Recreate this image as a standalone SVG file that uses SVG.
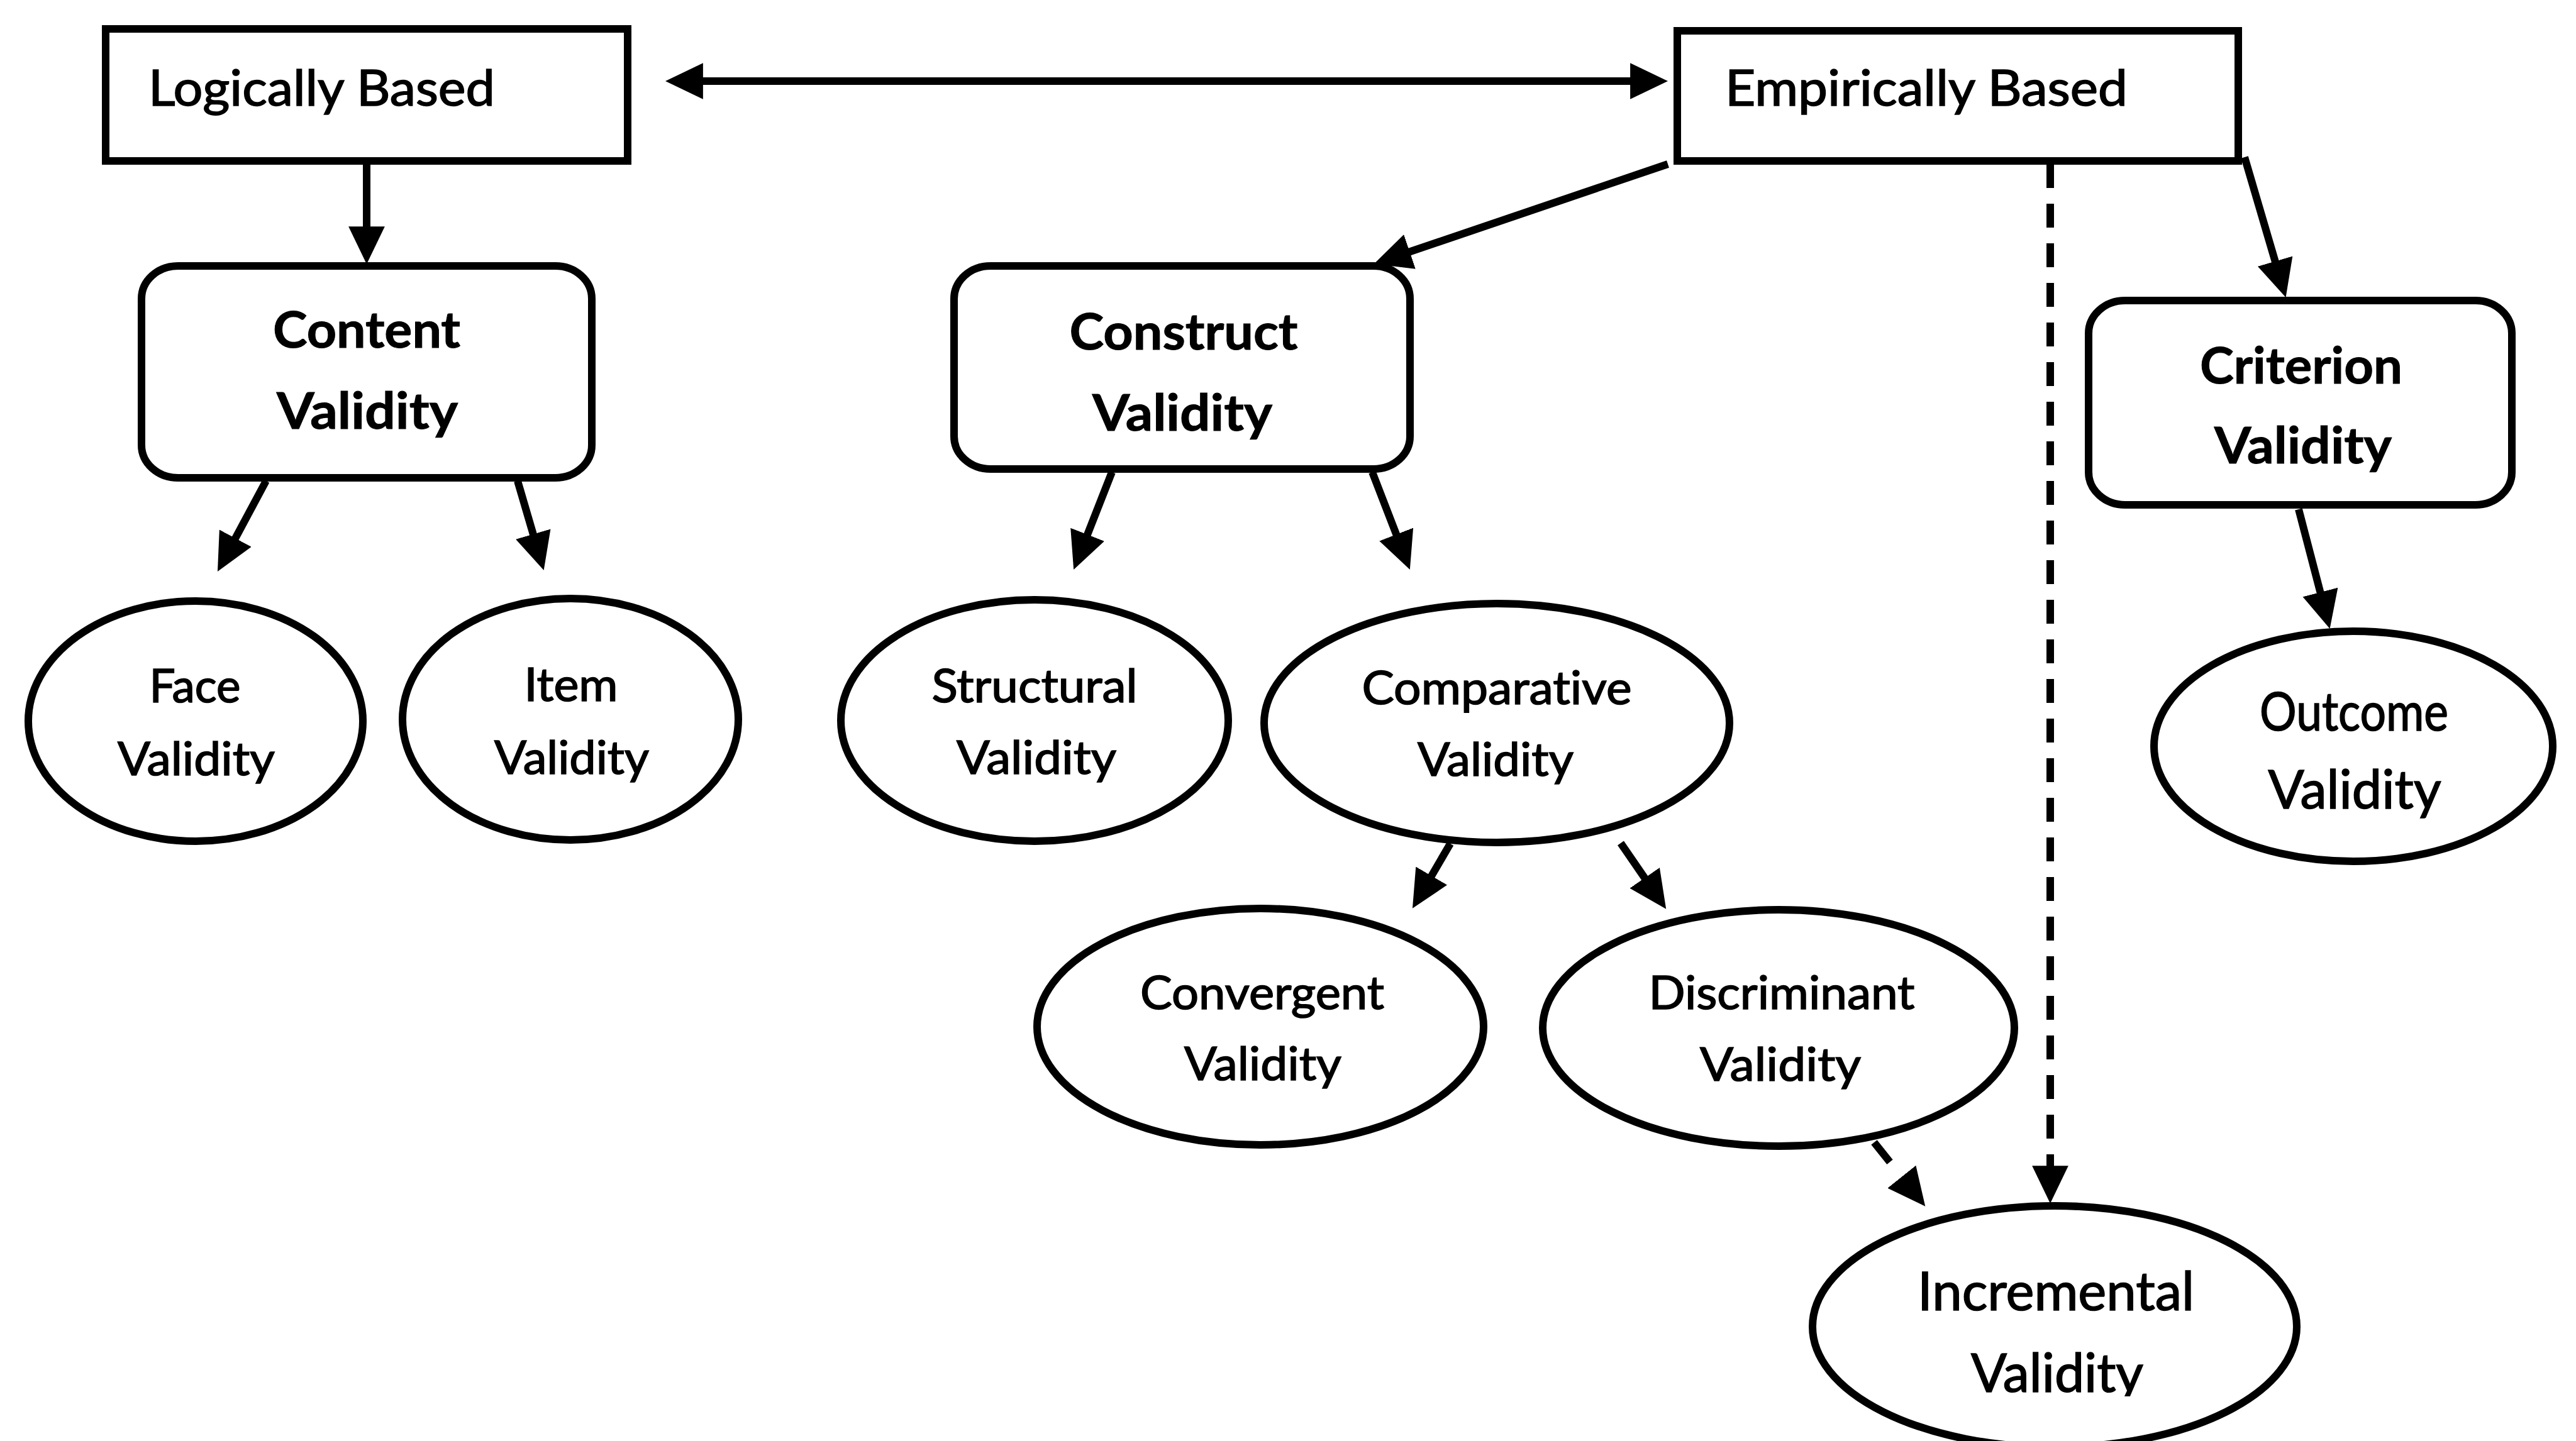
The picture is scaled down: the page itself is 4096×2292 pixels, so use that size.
<svg xmlns="http://www.w3.org/2000/svg" width="4096" height="2292" viewBox="0 0 4096 2292">
  <style>
    .box { fill: #fff; stroke: #000; stroke-width: 12; }
    .oval { fill: #fff; stroke: #000; stroke-width: 12; }
    .edge { fill: none; stroke: #000; stroke-width: 12; }
    .dash { stroke-dasharray: 38 25; }
    .dash1 { stroke-dasharray: 40 300; }
    .t { font-family: Lato, "Open Sans", "Liberation Sans", sans-serif; fill: #000; stroke: #000; stroke-width: 1.6; text-anchor: middle; font-size: 73px; font-variant-ligatures: none; font-feature-settings: "liga" 0, "clig" 0; }
    .tl { text-anchor: start; font-size: 79px; }
    .tb { font-weight: 700; font-size: 80px; stroke-width: 1; }
    .tx { font-size: 85px; }
  </style>
  <defs>
    <marker id="arrow" markerUnits="userSpaceOnUse" markerWidth="60" markerHeight="60" viewBox="0 0 52 50" refX="38" refY="25" orient="auto-start-reverse">
      <path d="M0,0 L52,25 L0,50 z" fill="#000"/>
    </marker>
    <clipPath id="bottomCut">
      <rect x="2800" y="1900" width="900" height="321"/>
    </clipPath>
  </defs>

  <rect width="4096" height="2292" fill="#fff"/>

  <!-- connectors -->
  <g id="connectors">
    <path class="edge" d="M1074,129 L2636,129" marker-start="url(#arrow)" marker-end="url(#arrow)"/>
    <path class="edge" d="M583,261 L583,404" marker-end="url(#arrow)"/>
    <path class="edge" d="M2652,261 L2200,414.5" marker-end="url(#arrow)"/>
    <path class="edge" d="M3569,250 L3630,457.6" marker-end="url(#arrow)"/>
    <path class="edge dash" d="M3260,261 L3260,1898" marker-end="url(#arrow)"/>
    <path class="edge" d="M423,765 L353.6,894.7" marker-end="url(#arrow)"/>
    <path class="edge" d="M823,765 L860.1,891.6" marker-end="url(#arrow)"/>
    <path class="edge" d="M1768,751 L1713.1,891" marker-end="url(#arrow)"/>
    <path class="edge" d="M2182,751 L2236,890.9" marker-end="url(#arrow)"/>
    <path class="edge" d="M3655,810 L3700.5,984.4" marker-end="url(#arrow)"/>
    <path class="edge" d="M2306,1342 L2254.1,1430.9" marker-end="url(#arrow)"/>
    <path class="edge" d="M2577,1341 L2640,1432.5" marker-end="url(#arrow)"/>
    <path class="edge dash1" d="M2980,1817 L3051.2,1906.1" marker-end="url(#arrow)"/>
  </g>

  <!-- top-level categories -->
  <g id="logically-based">
    <rect class="box" x="168" y="46" width="830" height="210"/>
    <text class="t tl" x="236" y="168" textLength="551" lengthAdjust="spacingAndGlyphs">Logically Based</text>
  </g>
  <g id="empirically-based">
    <rect class="box" x="2667" y="49" width="892" height="207"/>
    <text class="t tl" x="2743" y="168" textLength="640" lengthAdjust="spacingAndGlyphs">Empirically Based</text>
  </g>

  <!-- validity types -->
  <g id="content-validity">
    <rect class="box" x="225" y="423" width="716" height="337" rx="58" ry="52"/>
    <text class="t tb" x="583" y="553" textLength="298" lengthAdjust="spacingAndGlyphs">Content</text>
    <text class="t tb" x="584" y="682" textLength="288" lengthAdjust="spacingAndGlyphs">Validity</text>
  </g>
  <g id="construct-validity">
    <rect class="box" x="1517" y="423" width="725" height="323" rx="58" ry="52"/>
    <text class="t tb" x="1882" y="556" textLength="363" lengthAdjust="spacingAndGlyphs">Construct</text>
    <text class="t tb" x="1880" y="685" textLength="286" lengthAdjust="spacingAndGlyphs">Validity</text>
  </g>
  <g id="criterion-validity">
    <rect class="box" x="3321" y="478" width="673" height="325" rx="58" ry="52"/>
    <text class="t tb" x="3659" y="610" textLength="322" lengthAdjust="spacingAndGlyphs">Criterion</text>
    <text class="t tb" x="3662" y="737" textLength="282" lengthAdjust="spacingAndGlyphs">Validity</text>
  </g>

  <!-- subtypes -->
  <g id="face-validity">
    <ellipse class="oval" cx="311" cy="1147" rx="266" ry="191"/>
    <text class="t" x="310" y="1117" textLength="145" lengthAdjust="spacingAndGlyphs">Face</text>
    <text class="t" x="312" y="1233" textLength="250" lengthAdjust="spacingAndGlyphs">Validity</text>
  </g>
  <g id="item-validity">
    <ellipse class="oval" cx="907" cy="1144" rx="267" ry="192"/>
    <text class="t" x="908" y="1115" textLength="149" lengthAdjust="spacingAndGlyphs">Item</text>
    <text class="t" x="909" y="1231" textLength="246" lengthAdjust="spacingAndGlyphs">Validity</text>
  </g>
  <g id="structural-validity">
    <ellipse class="oval" cx="1645" cy="1146" rx="308" ry="192"/>
    <text class="t" x="1645" y="1117" textLength="327" lengthAdjust="spacingAndGlyphs">Structural</text>
    <text class="t" x="1648" y="1231" textLength="254" lengthAdjust="spacingAndGlyphs">Validity</text>
  </g>
  <g id="comparative-validity">
    <ellipse class="oval" cx="2380" cy="1150" rx="370" ry="190"/>
    <text class="t" x="2380" y="1120" textLength="429" lengthAdjust="spacingAndGlyphs">Comparative</text>
    <text class="t" x="2378" y="1234" textLength="248" lengthAdjust="spacingAndGlyphs">Validity</text>
  </g>
  <g id="convergent-validity">
    <ellipse class="oval" cx="2004" cy="1633" rx="355" ry="188"/>
    <text class="t" x="2007" y="1605" textLength="388" lengthAdjust="spacingAndGlyphs">Convergent</text>
    <text class="t" x="2008" y="1718" textLength="250" lengthAdjust="spacingAndGlyphs">Validity</text>
  </g>
  <g id="discriminant-validity">
    <ellipse class="oval" cx="2828" cy="1635" rx="375" ry="188"/>
    <text class="t" x="2833" y="1605" textLength="423" lengthAdjust="spacingAndGlyphs">Discriminant</text>
    <text class="t" x="2831" y="1719" textLength="256" lengthAdjust="spacingAndGlyphs">Validity</text>
  </g>
  <g id="outcome-validity">
    <ellipse class="oval" cx="3742" cy="1187" rx="317" ry="183"/>
    <text class="t tx" x="3743" y="1162" textLength="300" lengthAdjust="spacingAndGlyphs">Outcome</text>
    <text class="t tx" x="3744" y="1286" textLength="275" lengthAdjust="spacingAndGlyphs">Validity</text>
  </g>
  <g id="incremental-validity">
    <ellipse class="oval" cx="3267" cy="2110" rx="385" ry="192"/>
    <text class="t tx" x="3269" y="2084" textLength="440" lengthAdjust="spacingAndGlyphs">Incremental</text>
    <text class="t tx" x="3271" y="2214" textLength="274" lengthAdjust="spacingAndGlyphs" clip-path="url(#bottomCut)">Validity</text>
  </g>
</svg>
